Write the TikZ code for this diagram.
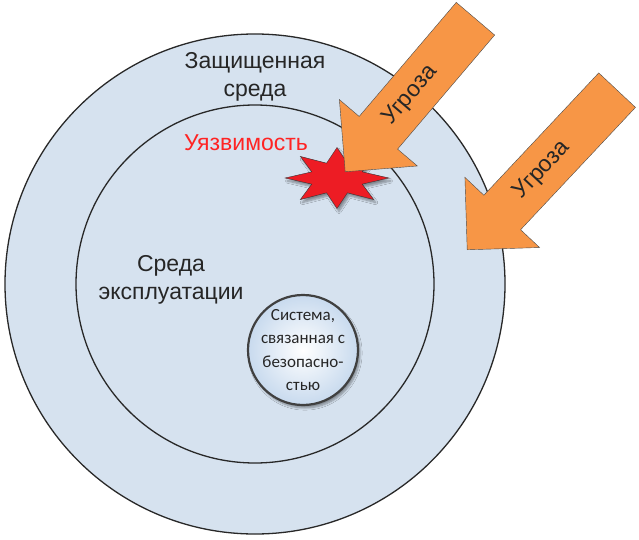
\documentclass[tikz,border=0pt]{standalone}
\usepackage{fontspec}
\setmainfont{Liberation Sans}
\newfontfamily\corefont{Carlito}
\usepackage{tikz}
\usetikzlibrary{positioning,calc,shapes.geometric,shapes.arrows,shadows.blur}
\definecolor{zonefill}{RGB}{214,226,239}
\definecolor{zonerule}{RGB}{40,40,40}
\definecolor{threatfill}{RGB}{247,150,70}
\definecolor{flawred}{RGB}{237,28,36}
\definecolor{flawtext}{RGB}{255,35,35}
\definecolor{corerim}{RGB}{200,218,238}
\tikzset{
  zone/.style={circle,draw=zonerule,line width=1.3pt,fill=zonefill,inner sep=0pt},
  zonelabel/.style={align=center,font=\fontsize{23}{28}\selectfont,text=black!85},
  core/.style={circle,draw=black!75,line width=2.2pt,inner sep=0pt,minimum size=110pt,shading=radial,inner color=white,middle color=white!88!corerim,outer color=corerim,blur shadow={shadow xshift=2pt,shadow yshift=-3pt,shadow blur steps=6}},
  corelabel/.style={align=center,font=\corefont\fontsize{17}{23.5}\selectfont,text=black!85},
  flaw/.style={star,star points=8,star point ratio=1.9,draw=black!80,fill=flawred,minimum size=61pt,inner sep=0pt,xscale=1.7,blur shadow={shadow xshift=2pt,shadow yshift=-3pt,shadow blur steps=6}},
  threat/.style={single arrow,shape border rotate=180,draw=black!70,fill=threatfill,minimum height=#1,minimum width=102pt,single arrow head extend=26pt,inner xsep=0pt,inner ysep=14.5pt,text height=16.5pt,text depth=4.5pt,anchor=tip},
  threatlabel/.style={font=\fontsize{23}{28}\selectfont,text=black!85,inner sep=0pt}
}

\begin{document}
\begin{tikzpicture}[x=1pt,y=1pt]
  \useasboundingbox (0,0) rectangle (639,539);
  \node[zone,minimum size=500pt] (outer) at (255,255) {};
  \node[zone,minimum size=358pt] (inner) at (255,255) {};
  \node[zonelabel] (outertext) at (255,462) {Защищенная\\среда};
  \node[zonelabel,text=flawtext] (flawtext) at (246,396) {Уязвимость};
  \node[zonelabel] (innertext) at (171,259) {Среда\\эксплуатации};
  \node[core] (core) at (303,189) {};
  \node[corelabel] (coretext) at (core.center) {Система,\\связанная с\\безопасно-\\стью};
  \node[flaw] (flaw) at (337,361) {};
  \node[threat=201pt,rotate=49.6] (threat1) at (345,367) {};
  \node[threat=219pt,rotate=46.8] (threat2) at (467,289) {};
  \node[threatlabel,rotate=49.6] (threat1text) at ($(threat1.tail)!0.5!(threat1.tip)$) {Угроза};
  \node[threatlabel,rotate=46.8] (threat2text) at ($(threat2.tail)!0.5!(threat2.tip)$) {Угроза};
\end{tikzpicture}
\end{document}
